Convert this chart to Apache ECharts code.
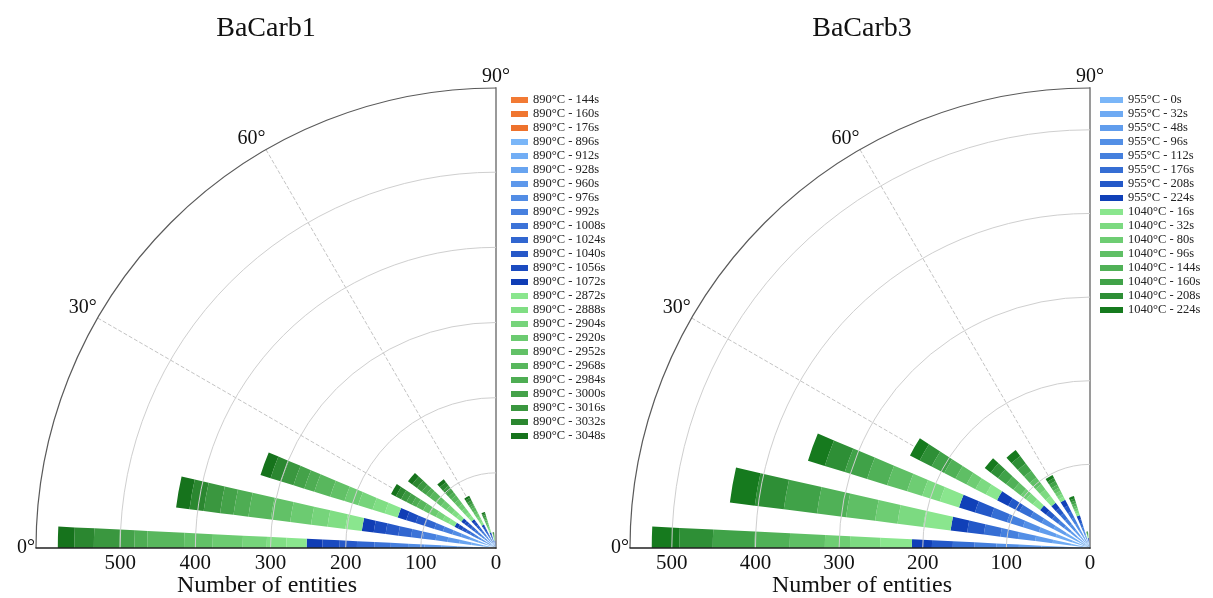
<!DOCTYPE html>
<html><head><meta charset="utf-8">
<script src="https://cdn.jsdelivr.net/npm/echarts@6/dist/echarts.min.js"></script>
<style>html,body{margin:0;padding:0;background:#fff}#c{width:1213px;height:598px}</style>
</head><body><div id="c"></div>
<script>
// ---------- DATA ----------
const angles = [0, 10, 20, 30, 40, 50, 60, 70, 80, 90];

// BaCarb1 (890°C)
const leftOrangeNames = ['890°C - 144s', '890°C - 160s', '890°C - 176s'];
const leftOrange = [
  [3, 1, 1, 0, 0, 0, 0, 0, 0, 0],
  [3, 1, 0, 0, 0, 0, 0, 0, 0, 0],
  [4, 0, 0, 0, 0, 0, 0, 0, 0, 0]
];
const leftBlueNames = ['890°C - 896s', '890°C - 912s', '890°C - 928s', '890°C - 960s', '890°C - 976s', '890°C - 992s',
  '890°C - 1008s', '890°C - 1024s', '890°C - 1040s', '890°C - 1056s', '890°C - 1072s'];
const leftBlue = [
  [20, 15, 12, 5, 5, 4, 3, 2, 1, 1],
  [21, 16, 12, 6, 5, 4, 3, 2, 1, 1],
  [22, 16, 12, 5, 5, 4, 3, 2, 1, 0],
  [22, 16, 12, 6, 5, 4, 3, 2, 1, 0],
  [22, 16, 12, 5, 5, 4, 3, 2, 1, 0],
  [23, 17, 13, 6, 6, 5, 3, 2, 1, 0],
  [22, 16, 12, 6, 5, 4, 3, 2, 1, 0],
  [23, 17, 13, 6, 6, 5, 4, 2, 1, 0],
  [23, 17, 13, 6, 6, 5, 4, 2, 1, 0],
  [23, 16, 13, 6, 5, 5, 3, 2, 1, 0],
  [21, 16, 12, 5, 5, 4, 3, 2, 0, 0]
];
const leftGreenNames = ['890°C - 2872s', '890°C - 2888s', '890°C - 2904s', '890°C - 2920s', '890°C - 2952s', '890°C - 2968s',
  '890°C - 2984s', '890°C - 3000s', '890°C - 3016s', '890°C - 3032s', '890°C - 3048s'];
const leftGreen = [
  [27, 22, 18, 9, 8, 6, 4, 3, 1, 0],
  [26, 24, 17, 9, 8, 6, 4, 2, 1, 0],
  [32, 22, 20, 10, 9, 7, 4, 3, 1, 0],
  [40, 28, 19, 9, 9, 7, 5, 3, 1, 0],
  [38, 26, 20, 10, 9, 7, 4, 3, 1, 0],
  [49, 30, 22, 10, 10, 7, 5, 3, 1, 0],
  [17, 20, 14, 7, 6, 5, 3, 2, 1, 0],
  [20, 18, 15, 8, 7, 5, 3, 2, 1, 0],
  [34, 22, 17, 8, 8, 6, 4, 3, 1, 0],
  [26, 19, 15, 8, 8, 6, 4, 2, 1, 0],
  [22, 18, 14, 7, 7, 5, 3, 2, 1, 0]
];

// BaCarb3 (955°C / 1040°C)
const rightBlueNames = ['955°C - 0s', '955°C - 32s', '955°C - 48s', '955°C - 96s', '955°C - 112s', '955°C - 176s', '955°C - 208s', '955°C - 224s'];
const rightBlue = [
  [30, 23, 22, 17, 10, 9, 9, 6, 2, 1],
  [28, 22, 21, 16, 10, 9, 8, 5, 2, 1],
  [27, 21, 21, 16, 10, 9, 8, 5, 2, 1],
  [27, 21, 20, 16, 9, 9, 8, 5, 1, 0],
  [26, 21, 20, 15, 9, 8, 8, 5, 1, 0],
  [26, 20, 20, 15, 9, 8, 8, 5, 1, 0],
  [25, 20, 20, 15, 9, 8, 8, 5, 1, 0],
  [24, 20, 20, 15, 9, 8, 8, 5, 2, 0]
];
const rightGreenNames = ['1040°C - 16s', '1040°C - 32s', '1040°C - 80s', '1040°C - 96s', '1040°C - 144s', '1040°C - 160s', '1040°C - 208s', '1040°C - 224s'];
const rightGreen = [
  [38, 33, 24, 15, 11, 10, 4, 3, 1, 0],
  [36, 31, 22, 14, 10, 10, 4, 3, 1, 0],
  [30, 27, 19, 12, 8, 8, 4, 3, 1, 0],
  [42, 35, 25, 15, 11, 10, 4, 3, 1, 0],
  [42, 35, 25, 15, 11, 10, 4, 3, 1, 0],
  [50, 40, 28, 17, 12, 11, 5, 3, 1, 0],
  [40, 35, 25, 16, 11, 11, 4, 3, 1, 0],
  [33, 30, 21, 13, 9, 9, 4, 3, 1, 0]
];

const angleTicks = [0, 30, 60, 90];
const radiusTicks = [0, 100, 200, 300, 400, 500];

// ---------- STYLE ----------
const leftOrangeColors = ['#f27a34', '#f07630', '#ee722c'];
const leftBlueColors = ['#7ab6f8', '#72aef5', '#68a4f0', '#5d98eb', '#528de5', '#4780df', '#3c73d8', '#3166d0', '#2658c8', '#1b4bc0', '#103db5'];
const leftGreenColors = ['#8ae68e', '#80de84', '#76d47b', '#6ccb71', '#62c167', '#58b75d', '#4ead53', '#44a249', '#3a973f', '#2b8730', '#16731c'];
const rightBlueColors = ['#7ab6f8', '#6eaaf3', '#619ded', '#538fe6', '#4580de', '#356ed4', '#2358c8', '#1040b8'];
const rightGreenColors = ['#8ae68e', '#7cda81', '#6ecd73', '#5fbf65', '#50b157', '#40a248', '#2e8f36', '#167a1e'];

const SERIF = 'Liberation Serif, Times New Roman, serif';
const C = [{ cx: 496, cy: 548, max: 612 }, { cx: 1090, cy: 548, max: 550 }];
const R = 460;
const BAR_HALF = 2.8;        // half bar width, in angle-axis units (degrees)
const ANGLE_MIN = 0, ANGLE_MAX = 90;

// stacked sector renderer (goes through the polar axes via api.coord)
function renderSector(params, api) {
  const v = api.value(0), a = api.value(1), base = api.value(2);
  if (!(v > 0)) return null;
  const cs = params.coordSys;
  const cx = cs.cx, cy = cs.cy;
  const a0 = Math.max(ANGLE_MIN, a - BAR_HALF), a1 = Math.min(ANGLE_MAX, a + BAR_HALF);
  const pIn = api.coord([base, a]), pOut = api.coord([base + v, a]);
  const r0 = Math.hypot(pIn[0] - cx, pIn[1] - cy), r = Math.hypot(pOut[0] - cx, pOut[1] - cy);
  const q0 = api.coord([base + v, a0]), q1 = api.coord([base + v, a1]);
  const s = Math.atan2(q0[1] - cy, q0[0] - cx);
  let d = Math.atan2(q1[1] - cy, q1[0] - cx) - s;
  while (d > Math.PI) d -= 2 * Math.PI;
  while (d < -Math.PI) d += 2 * Math.PI;
  const start = d >= 0 ? s : s + d, end = d >= 0 ? s + d : s;
  return {
    type: 'sector',
    shape: { cx, cy, r0, r, startAngle: start, endAngle: end, clockwise: true },
    style: { fill: api.visual('color') }
  };
}

function buildStack(groups, polarIndex) {
  const base = angles.map(() => 0);
  const out = [];
  groups.forEach(g => {
    g.rows.forEach((row, i) => {
      const data = row.map((v, k) => [v, angles[k], base[k]]);
      row.forEach((v, k) => { base[k] += v; });
      out.push({
        type: 'custom', name: g.names[i], coordinateSystem: 'polar', polarIndex,
        itemStyle: { color: g.colors[i] }, renderItem: renderSector,
        encode: { radius: 0, angle: 1 }, silent: true, data
      });
    });
  });
  return out;
}

const series = [].concat(
  buildStack([
    { names: leftOrangeNames, rows: leftOrange, colors: leftOrangeColors },
    { names: leftBlueNames, rows: leftBlue, colors: leftBlueColors },
    { names: leftGreenNames, rows: leftGreen, colors: leftGreenColors }
  ], 0),
  buildStack([
    { names: rightBlueNames, rows: rightBlue, colors: rightBlueColors },
    { names: rightGreenNames, rows: rightGreen, colors: rightGreenColors }
  ], 1)
);

const splitColors = () => {
  const arr = [];
  for (let i = 0; i < 12; i++) arr.push(i <= 5 ? '#cfcfcf' : 'rgba(0,0,0,0)');
  return arr;
};

const angleAxis = [], radiusAxis = [], polar = [];
C.forEach((c, idx) => {
  polar.push({ center: [c.cx, c.cy], radius: R });
  angleAxis.push({
    polarIndex: idx, type: 'value', min: ANGLE_MIN, max: ANGLE_MAX, interval: 30,
    startAngle: 180, endAngle: 90, clockwise: true,
    axisLine: { show: true, lineStyle: { color: '#5a5a5a', width: 1.2 } },
    axisTick: { show: false },
    axisLabel: { show: true, formatter: v => angleTicks.includes(v) ? v + '°' : '', fontFamily: SERIF, fontSize: 20, color: '#111', margin: 1 },
    splitLine: { show: true, lineStyle: { type: 'dashed', width: 1, color: ['rgba(0,0,0,0)', '#c4c4c4', '#c4c4c4', 'rgba(0,0,0,0)'] } }
  });
  radiusAxis.push({
    polarIndex: idx, type: 'value', min: 0, max: c.max, interval: 100, z: 5,
    axisLine: { show: true, lineStyle: { color: '#222', width: 1.5 } },
    axisTick: { show: false },
    axisLabel: { show: true, formatter: v => radiusTicks.includes(v) ? String(v) : '', fontFamily: SERIF, fontSize: 21, color: '#111', margin: 5 },
    splitLine: { show: true, lineStyle: { width: 1, color: splitColors() } }
  });
});
// vertical (90°) reference line for each half
C.forEach((c, idx) => {
  polar.push({ center: [c.cx, c.cy], radius: R });
  angleAxis.push({
    polarIndex: 2 + idx, type: 'value', min: 0, max: 90, startAngle: 90, endAngle: 0, clockwise: true,
    axisLine: { show: false }, axisTick: { show: false }, axisLabel: { show: false }, splitLine: { show: false }
  });
  radiusAxis.push({
    polarIndex: 2 + idx, type: 'value', min: 0, max: 1,
    axisLine: { show: true, lineStyle: { color: '#9a9a9a', width: 2 } },
    axisTick: { show: false }, axisLabel: { show: false }, splitLine: { show: false }
  });
});

const legendCommon = {
  orient: 'vertical', icon: 'rect', itemHeight: 6, itemGap: 0, selectedMode: false, padding: 0,
  textStyle: { fontFamily: SERIF, fontSize: 12.5, color: '#222', lineHeight: 14 }
};

const option = {
  animation: false,
  backgroundColor: '#fff',
  polar, angleAxis, radiusAxis,
  legend: [
    Object.assign({}, legendCommon, { left: 511, top: 93, itemWidth: 17, data: [].concat(leftOrangeNames, leftBlueNames, leftGreenNames) }),
    Object.assign({}, legendCommon, { left: 1100, top: 93, itemWidth: 23, data: [].concat(rightBlueNames, rightGreenNames) })
  ],
  graphic: [
    { type: 'text', x: 266, y: 29, style: { text: 'BaCarb1', font: '28px ' + SERIF, fill: '#111', textAlign: 'center', textVerticalAlign: 'middle' } },
    { type: 'text', x: 862, y: 29, style: { text: 'BaCarb3', font: '28px ' + SERIF, fill: '#111', textAlign: 'center', textVerticalAlign: 'middle' } },
    { type: 'text', x: 267, y: 586, style: { text: 'Number of entities', font: '24px ' + SERIF, fill: '#111', textAlign: 'center', textVerticalAlign: 'middle' } },
    { type: 'text', x: 862, y: 586, style: { text: 'Number of entities', font: '24px ' + SERIF, fill: '#111', textAlign: 'center', textVerticalAlign: 'middle' } }
  ],
  series
};

const chart = echarts.init(document.getElementById('c'), null, { renderer: 'canvas' });
chart.setOption(option);
</script>
</body></html>
